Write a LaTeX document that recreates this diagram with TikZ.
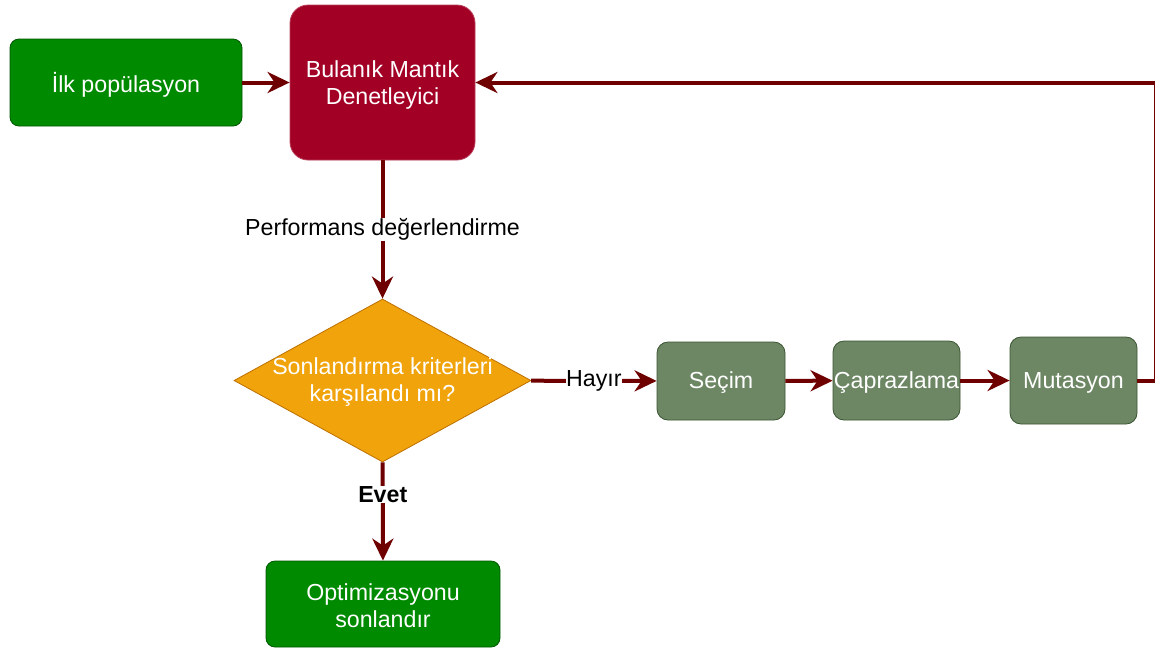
\documentclass[tikz,border=0pt]{standalone}
\usepackage{fontspec}
\setmainfont{Liberation Sans}
\usetikzlibrary{shapes.geometric,arrows.meta}

\definecolor{flowred}{HTML}{6F0000}
\definecolor{okgreen}{HTML}{008A00}
\definecolor{okgreenline}{HTML}{005700}
\definecolor{wine}{HTML}{A20025}
\definecolor{amber}{HTML}{F0A30A}
\definecolor{amberline}{HTML}{BD7000}
\definecolor{sage}{HTML}{6D8764}
\definecolor{sageline}{HTML}{3A5431}

\tikzset{
  txt/.style={font=\fontsize{23.2}{27}\selectfont, align=center},
  inner/.style={txt, text=white, yshift=-2pt},
  box/.style={rounded corners=9pt, line width=0.8pt, inner sep=0pt},
  greenbox/.style={box, fill=okgreen, draw=okgreenline},
  winebox/.style={box, fill=wine, draw=wine!75!white, rounded corners=18pt},
  sagebox/.style={box, fill=sage, draw=sageline, rounded corners=11pt},
  decision/.style={diamond, fill=amber, draw=amberline, line width=0.8pt, inner sep=0pt},
  flow/.style={draw=flowred, line width=4pt,
    -{Stealth[length=22pt, width=21pt, inset=7pt]}},
  flowlabel/.style={txt, fill=white, inner sep=0.5pt, text=black},
}

\begin{document}
\begin{tikzpicture}[x=1pt, y=-1pt]
  \useasboundingbox (0,0) rectangle (1155,649);

  % process boxes (text placed as centred labels)
  \node[greenbox, minimum width=232pt, minimum height=87pt,
        label={[inner]center:İlk popülasyon}] (init) at (126,82.5) {};
  \node[winebox, minimum width=185pt, minimum height=155pt,
        label={[inner]center:{Bulanık Mantık\\Denetleyici}}] (flc) at (382.5,82.5) {};
  \node[decision, minimum width=297pt, minimum height=163pt,
        label={[inner]center:{Sonlandırma kriterleri\\karşılandı mı?}}] (check) at (382.5,380.5) {};
  \node[sagebox, minimum width=128pt, minimum height=78pt,
        label={[inner]center:Seçim}] (sel) at (721,381) {};
  \node[sagebox, minimum width=127pt, minimum height=79pt,
        label={[inner]center:Çaprazlama}] (cross) at (896.5,380.5) {};
  \node[sagebox, minimum width=127pt, minimum height=87pt,
        label={[inner]center:Mutasyon}] (mut) at (1073.5,380.5) {};
  \node[greenbox, minimum width=234pt, minimum height=86pt,
        label={[inner]center:{Optimizasyonu\\sonlandır}}] (stop) at (383,604) {};

  % loop-back corner at the right border
  \coordinate (loop) at (1156,380.5);

  % connectors
  \draw[flow] (init) -- (flc);
  \draw[flow] (flc) -- node[flowlabel] {Performans değerlendirme} (check);
  \draw[flow] (check) -- node[flowlabel] {Hayır} (sel);
  \draw[flow] (sel) -- (cross);
  \draw[flow] (cross) -- (mut);
  \draw[flow] (mut) -- (loop) |- (flc);
  \draw[flow] (check) -- node[flowlabel, pos=0.33, font=\fontsize{23.2}{27}\selectfont\bfseries] {Evet} (stop);
\end{tikzpicture}
\end{document}
